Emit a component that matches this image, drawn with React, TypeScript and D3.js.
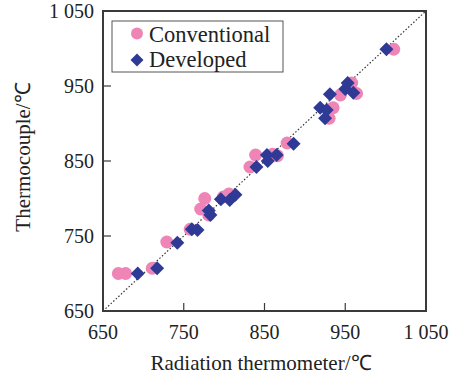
import React from "react";
import * as d3 from "d3";

const conventionalX = [669, 678, 711, 729, 758, 771, 776, 781, 799, 806, 832, 839, 860, 866, 878, 930, 935, 944, 958, 964, 1010];
const conventionalY = [700, 700, 707, 742, 759, 786, 800, 778, 802, 806, 842, 858, 859, 857, 874, 907, 921, 938, 954, 940, 999];
const developedX = [693, 717, 742, 760, 767, 781, 783, 796, 807, 814, 840, 853, 854, 865, 886, 919, 925, 927, 931, 950, 953, 960, 1001];
const developedY = [700, 707, 741, 759, 758, 784, 778, 799, 798, 805, 842, 858, 850, 858, 873, 921, 907, 918, 939, 946, 954, 941, 999];
const ticks = [650, 750, 850, 950, 1050];
const tickLabels = ["650", "750", "850", "950", "1 050"];
const seriesNames = ["Conventional", "Developed"];

const W = 457, H = 378;
const L = 103, R = 426, T = 11, B = 311;
const PINK = "#ef84b6";
const BLUE = "#2f3a96";
const AXIS = "#3a3a3a";
const FONT = "'Liberation Serif', 'Times New Roman', serif";

export default function App() {
  const x = d3.scaleLinear().domain([650, 1050]).range([L, R]);
  const y = d3.scaleLinear().domain([650, 1050]).range([B, T]);
  const diamond = (cx: number, cy: number, r: number) =>
    `M${cx},${cy - r}L${cx + r},${cy}L${cx},${cy + r}L${cx - r},${cy}Z`;
  const diag = d3.line<number>().x((v) => x(v)).y((v) => y(v))([650, 1050]) || "";
  return (
    <svg width={W} height={H} style={{ position: "absolute", left: 0, top: 0, background: "#fff" }}>
      <rect x={0} y={0} width={W} height={H} fill="#fff" />
      <path d={diag} stroke="#333" strokeWidth={1.2} strokeDasharray="1.5,2" fill="none" />
      {conventionalX.map((v, i) => (
        <circle key={"c" + i} cx={x(v)} cy={y(conventionalY[i])} r={6.5} fill={PINK} />
      ))}
      {developedX.map((v, i) => (
        <path key={"d" + i} d={diamond(x(v), y(developedY[i]), 7)} fill={BLUE} />
      ))}
      <rect x={L} y={T} width={R - L} height={B - T} fill="none" stroke={AXIS} strokeWidth={2} />
      {ticks.slice(1, -1).map((t) => (
        <g key={"t" + t}>
          <line x1={x(t)} x2={x(t)} y1={B} y2={B - 8} stroke={AXIS} strokeWidth={1.2} />
          <line x1={L} x2={L + 8} y1={y(t)} y2={y(t)} stroke={AXIS} strokeWidth={1.2} />
        </g>
      ))}
      {ticks.map((t, i) => (
        <text key={"xl" + t} x={x(t)} y={339} textAnchor="middle" fontFamily={FONT} fontSize={20} fill="#222">
          {tickLabels[i]}
        </text>
      ))}
      {ticks.map((t, i) => (
        <text key={"yl" + t} x={94} y={y(t) + 7} textAnchor="end" fontFamily={FONT} fontSize={20} fill="#222">
          {tickLabels[i]}
        </text>
      ))}
      <text x={261} y={370} textAnchor="middle" fontFamily={FONT} fontSize={21} fill="#222">
        Radiation thermometer/℃
      </text>
      <text transform={`translate(30,157) rotate(-90)`} textAnchor="middle" fontFamily={FONT} fontSize={21} fill="#222">
        Thermocouple/℃
      </text>
      <rect x={112} y={21} width={171} height={51} fill="#fff" stroke="#555" strokeWidth={1} />
      <circle cx={137} cy={33.5} r={6} fill={PINK} />
      <text x={149} y={41.5} fontFamily={FONT} fontSize={22.5} fill="#222">{seriesNames[0]}</text>
      <path d={diamond(137, 60, 6.5)} fill={BLUE} />
      <text x={149} y={66.5} fontFamily={FONT} fontSize={22.5} fill="#222">{seriesNames[1]}</text>
    </svg>
  );
}
